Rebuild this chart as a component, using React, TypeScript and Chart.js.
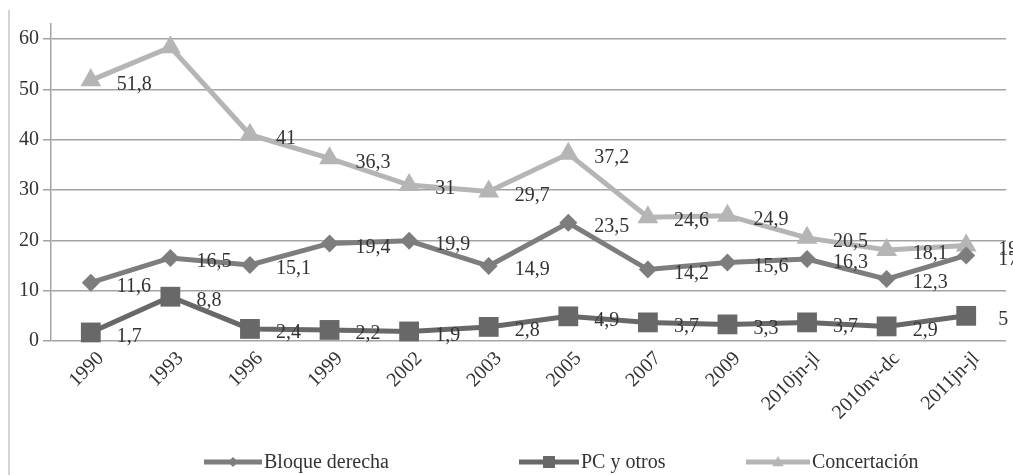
import React, { useEffect, useRef } from 'react';
import { Chart, registerables } from 'chart.js';

Chart.register(...registerables);

const categories = ['1990', '1993', '1996', '1999', '2002', '2003', '2005', '2007', '2009', '2010jn-jl', '2010nv-dc', '2011jn-jl'];
const bloqueDerecha = [11.6, 16.5, 15.1, 19.4, 19.9, 14.9, 23.5, 14.2, 15.6, 16.3, 12.3, 17];
const pcYOtros = [1.7, 8.8, 2.4, 2.2, 1.9, 2.8, 4.9, 3.7, 3.3, 3.7, 2.9, 5];
const concertacion = [51.8, 58.4, 41, 36.3, 31, 29.7, 37.2, 24.6, 24.9, 20.5, 18.1, 19];
// data labels shown in the picture (1993 Concertación has none)
const bloqueLabels = ['11,6', '16,5', '15,1', '19,4', '19,9', '14,9', '23,5', '14,2', '15,6', '16,3', '12,3', '17'];
const pcLabels = ['1,7', '8,8', '2,4', '2,2', '1,9', '2,8', '4,9', '3,7', '3,3', '3,7', '2,9', '5'];
const concertacionLabels = ['51,8', '', '41', '36,3', '31', '29,7', '37,2', '24,6', '24,9', '20,5', '18,1', '19'];
const yTickValues = [0, 10, 20, 30, 40, 50, 60];

const FONT = "'Liberation Serif', 'Times New Roman', serif";
const TEXT = '#333333';
const COLORS = ['#7d7d7d', '#686868', '#b5b5b5'];
const STYLES = ['rectRot', 'rect', 'triangle'];

function drawMarker(ctx: CanvasRenderingContext2D, style: string, x: number, y: number, r: number) {
  ctx.beginPath();
  if (style === 'rectRot') {
    ctx.moveTo(x, y - r);
    ctx.lineTo(x + r, y);
    ctx.lineTo(x, y + r);
    ctx.lineTo(x - r, y);
  } else if (style === 'rect') {
    ctx.rect(x - r, y - r, 2 * r, 2 * r);
  } else {
    ctx.moveTo(x, y - r);
    ctx.lineTo(x + r * 0.95, y + r * 0.7);
    ctx.lineTo(x - r * 0.95, y + r * 0.7);
  }
  ctx.closePath();
  ctx.fill();
}

const backgroundPlugin = {
  id: 'bgFrame',
  beforeDraw(chart: any) {
    const ctx = chart.ctx;
    ctx.save();
    ctx.fillStyle = '#ffffff';
    ctx.fillRect(0, 0, chart.width, chart.height);
    ctx.strokeStyle = '#d4d4d4';
    ctx.lineWidth = 2;
    ctx.beginPath();
    ctx.moveTo(9, 10);
    ctx.lineTo(9, chart.height);
    ctx.stroke();
    ctx.restore();
  },
};

const valueLabelPlugin = {
  id: 'valueLabels',
  afterDatasetsDraw(chart: any) {
    const ctx = chart.ctx;
    const labelSets = [bloqueLabels, pcLabels, concertacionLabels];
    ctx.save();
    ctx.font = `20px ${FONT}`;
    ctx.fillStyle = TEXT;
    ctx.textAlign = 'left';
    ctx.textBaseline = 'middle';
    chart.data.datasets.forEach((_ds: any, di: number) => {
      const meta = chart.getDatasetMeta(di);
      meta.data.forEach((pt: any, i: number) => {
        const txt = labelSets[di][i];
        if (!txt) return;
        const dx = i === meta.data.length - 1 ? 32 : 26;
        ctx.fillText(txt, pt.x + dx, pt.y + 4);
      });
    });
    ctx.restore();
  },
};

const legendPlugin = {
  id: 'customLegend',
  afterDraw(chart: any) {
    const ctx = chart.ctx;
    const starts = [204, 519, 746];
    const iconW = [58, 60, 64];
    const y = 462;
    const markerR = [5, 6, 6];
    ctx.save();
    ctx.font = `20px ${FONT}`;
    ctx.textAlign = 'left';
    ctx.textBaseline = 'middle';
    chart.data.datasets.forEach((ds: any, i: number) => {
      const x0 = starts[i];
      ctx.strokeStyle = COLORS[i];
      ctx.fillStyle = COLORS[i];
      ctx.lineWidth = 5;
      ctx.beginPath();
      ctx.moveTo(x0, y);
      ctx.lineTo(x0 + iconW[i], y);
      ctx.stroke();
      drawMarker(ctx, STYLES[i], x0 + iconW[i] / 2, y, markerR[i]);
      ctx.fillStyle = TEXT;
      ctx.fillText(ds.label, x0 + iconW[i] + 2, y + 1);
    });
    ctx.restore();
  },
};

export default function App() {
  const canvasRef = useRef<HTMLCanvasElement | null>(null);

  useEffect(() => {
    if (!canvasRef.current) return;
    const chart = new Chart(canvasRef.current, {
      type: 'line',
      data: {
        labels: categories,
        datasets: [
          {
            label: 'Bloque derecha',
            data: bloqueDerecha,
            borderColor: COLORS[0],
            backgroundColor: COLORS[0],
            borderWidth: 5,
            pointStyle: 'rectRot',
            pointRadius: 9,
            pointBorderWidth: 0,
            tension: 0,
            clip: false,
          },
          {
            label: 'PC y otros',
            data: pcYOtros,
            borderColor: COLORS[1],
            backgroundColor: COLORS[1],
            borderWidth: 5,
            pointStyle: 'rect',
            pointRadius: 14,
            pointBorderWidth: 0,
            tension: 0,
            clip: false,
          },
          {
            label: 'Concertación',
            data: concertacion,
            borderColor: COLORS[2],
            backgroundColor: COLORS[2],
            borderWidth: 5,
            pointStyle: 'triangle',
            pointRadius: 12,
            pointBorderWidth: 0,
            tension: 0,
            clip: false,
          },
        ],
      },
      options: {
        animation: false,
        responsive: false,
        devicePixelRatio: 1,
        layout: { autoPadding: false, padding: { left: 8, right: 7, top: 24, bottom: 49 } },
        plugins: {
          legend: { display: false },
          tooltip: { enabled: false },
        },
        scales: {
          x: {
            type: 'category',
            offset: true,
            grid: { display: false, drawTicks: false },
            border: { display: false },
            ticks: {
              color: TEXT,
              font: { family: FONT, size: 20 },
              minRotation: 45,
              maxRotation: 45,
              padding: 6,
              labelOffset: 10,
              autoSkip: false,
            },
            afterFit: (s: any) => {
              s.height = 85;
              s.paddingRight = 0;
              s.paddingLeft = 0;
            },
          },
          y: {
            type: 'linear',
            min: 0,
            max: 63,
            grid: { color: '#a3a3a3', lineWidth: 1.5, tickLength: 8 },
            border: { display: true, color: '#a3a3a3', width: 1.5 },
            ticks: {
              color: TEXT,
              font: { family: FONT, size: 20 },
              stepSize: 10,
              padding: 4,
            },
            afterBuildTicks: (s: any) => {
              s.ticks = yTickValues.map((v) => ({ value: v }));
            },
            afterFit: (s: any) => {
              s.width = 43;
              s.paddingTop = 0;
              s.paddingBottom = 0;
            },
          },
        },
      },
      plugins: [backgroundPlugin, valueLabelPlugin, legendPlugin],
    });
    return () => chart.destroy();
  }, []);

  return (
    <div style={{ position: 'fixed', left: 0, top: 0, width: 1013, height: 475, background: '#fff' }}>
      <canvas ref={canvasRef} width={1013} height={475} style={{ display: 'block', width: 1013, height: 475 }} />
    </div>
  );
}
